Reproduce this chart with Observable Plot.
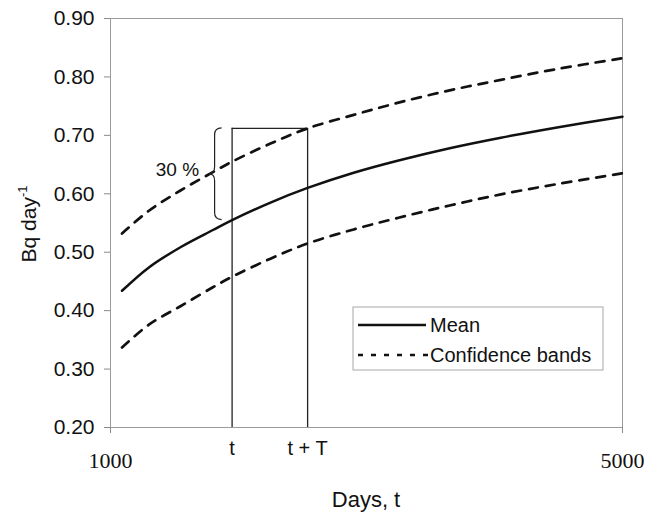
<!DOCTYPE html>
<html>
<head>
<meta charset="utf-8">
<script src="https://cdn.jsdelivr.net/npm/d3@7"></script>
<script src="https://cdn.jsdelivr.net/npm/@observablehq/plot@0.6"></script>
<style>
  html, body { margin: 0; padding: 0; background: #fff; }
  #chart { width: 646px; height: 513px; }
</style>
</head>
<body>
<div id="chart"></div>
<script>
// ---- data ----
const days  = [1090, 1300, 1550, 1800, 1950, 2250, 2540, 2900, 3250, 3650, 4050, 4500, 5000];
const mean  = [0.434, 0.474, 0.509, 0.538, 0.555, 0.585, 0.610, 0.636, 0.657, 0.678, 0.696, 0.714, 0.732];
const upper = [0.532, 0.571, 0.606, 0.637, 0.655, 0.686, 0.712, 0.735, 0.756, 0.777, 0.795, 0.814, 0.832];
const lower = [0.337, 0.376, 0.408, 0.440, 0.458, 0.489, 0.515, 0.539, 0.559, 0.580, 0.599, 0.617, 0.635];
const yTicks = [0.20, 0.30, 0.40, 0.50, 0.60, 0.70, 0.80, 0.90];
const xTicks = [1000, 5000];
const tDay = 1950;
const tTDay = 2540;
const markerLabels = ["t", "t + T"];
const percentLabel = "30 %";
const legendLabels = ["Mean", "Confidence bands"];
const xTitle = "Days, t";
const yTitle = "Bq day";
const yTitleSup = "-1";

// ---- derived table ----
const rows = days.map((d, i) => ({day: d, mean: mean[i], upper: upper[i], lower: lower[i]}));
const bracketTop = upper[days.indexOf(tTDay)];
const bracketBottom = mean[days.indexOf(tDay)];
const markers = [{x: tDay, label: markerLabels[0]}, {x: tTDay, label: markerLabels[1]}];

const sans = "'Liberation Sans', Arial, Helvetica, sans-serif";
const serif = "'Liberation Serif', 'Times New Roman', serif";
const ink = "#111";

// curly brace drawn through the plot's scales
function brace(index, scales) {
  const xr = scales.x(tDay) - 10;
  const xs = xr - 7;
  const xt = xr - 13;
  const y0 = scales.y(bracketTop);
  const y1 = scales.y(bracketBottom);
  const ym = (y0 + y1) / 2;
  const r = 7;
  const p = d3.path();
  p.moveTo(xr, y0);
  p.quadraticCurveTo(xs, y0, xs, y0 + r);
  p.lineTo(xs, ym - r);
  p.quadraticCurveTo(xs, ym, xt, ym);
  p.quadraticCurveTo(xs, ym, xs, ym + r);
  p.lineTo(xs, y1 - r);
  p.quadraticCurveTo(xs, y1, xr, y1);
  return d3.create("svg:path")
    .attr("d", p.toString())
    .attr("fill", "none")
    .attr("stroke", "#222")
    .attr("stroke-width", 1.2)
    .node();
}

const chart = Plot.plot({
  width: 646,
  height: 513,
  marginLeft: 110,
  marginRight: 24,
  marginTop: 18,
  marginBottom: 86,
  style: {fontFamily: sans, background: "#fff", color: ink},
  x: {domain: [1000, 5000]},
  y: {domain: [0.2, 0.9]},
  marks: [
    Plot.frame({stroke: "#9a9a9a", strokeWidth: 1}),
    Plot.axisY({ticks: yTicks, tickFormat: d3.format(".2f"), tickSize: 6, tickPadding: 10,
                fontSize: 21, label: null, stroke: "#8a8a8a", fill: ink}),
    Plot.axisX({ticks: xTicks, tickFormat: d => String(d), tickSize: 6, tickPadding: 19,
                fontSize: 22, fontFamily: serif, label: null, stroke: "#8a8a8a", fill: ink}),
    Plot.ruleX([tDay, tTDay], {y1: 0.2, y2: bracketTop, stroke: "#222", strokeWidth: 1.3}),
    Plot.ruleY([bracketTop], {x1: tDay, x2: tTDay, stroke: "#222", strokeWidth: 1.3}),
    Plot.line(rows, {x: "day", y: "lower", stroke: ink, strokeWidth: 2.7, strokeDasharray: "9,8", curve: "catmull-rom"}),
    Plot.line(rows, {x: "day", y: "upper", stroke: ink, strokeWidth: 2.7, strokeDasharray: "9,8", curve: "catmull-rom"}),
    Plot.line(rows, {x: "day", y: "mean", stroke: ink, strokeWidth: 2.5, curve: "catmull-rom"}),
    brace,
    Plot.text([percentLabel], {x: tDay, y: (bracketTop + bracketBottom) / 2, dx: -33, dy: -4,
                               textAnchor: "end", fontSize: 19, fill: ink, text: d => d}),
    Plot.text(markers, {x: "x", y: 0.2, dy: 21, text: "label", fontSize: 20, fill: ink})
  ]
});

document.getElementById("chart").appendChild(chart);

// titles and legend
const svg = d3.select(chart);
svg.append("text")
  .attr("x", 366).attr("y", 507)
  .attr("text-anchor", "middle")
  .attr("font-family", sans).attr("font-size", 22).attr("fill", ink)
  .text(xTitle);

const yt = svg.append("text")
  .attr("transform", "translate(36,224) rotate(-90)")
  .attr("text-anchor", "middle")
  .attr("font-family", sans).attr("font-size", 21).attr("fill", ink);
yt.append("tspan").text(yTitle);
yt.append("tspan").attr("font-size", 13).attr("dy", -9).text(yTitleSup);

const lg = svg.append("g");
lg.append("rect")
  .attr("x", 353).attr("y", 307).attr("width", 250).attr("height", 63)
  .attr("fill", "#fff").attr("stroke", "#a8a8a8").attr("stroke-width", 1);
lg.append("line")
  .attr("x1", 358).attr("x2", 426).attr("y1", 325).attr("y2", 325)
  .attr("stroke", ink).attr("stroke-width", 2.4);
lg.append("line")
  .attr("x1", 358).attr("x2", 428).attr("y1", 355).attr("y2", 355)
  .attr("stroke", ink).attr("stroke-width", 2.4).attr("stroke-dasharray", "5,8");
lg.selectAll("text.lbl").data(legendLabels).join("text")
  .attr("class", "lbl")
  .attr("x", 430)
  .attr("y", (d, i) => 325 + i * 30)
  .attr("dy", "0.35em")
  .attr("text-anchor", "start")
  .attr("font-family", sans).attr("font-size", 20).attr("fill", ink)
  .text(d => d);
</script>
</body>
</html>
